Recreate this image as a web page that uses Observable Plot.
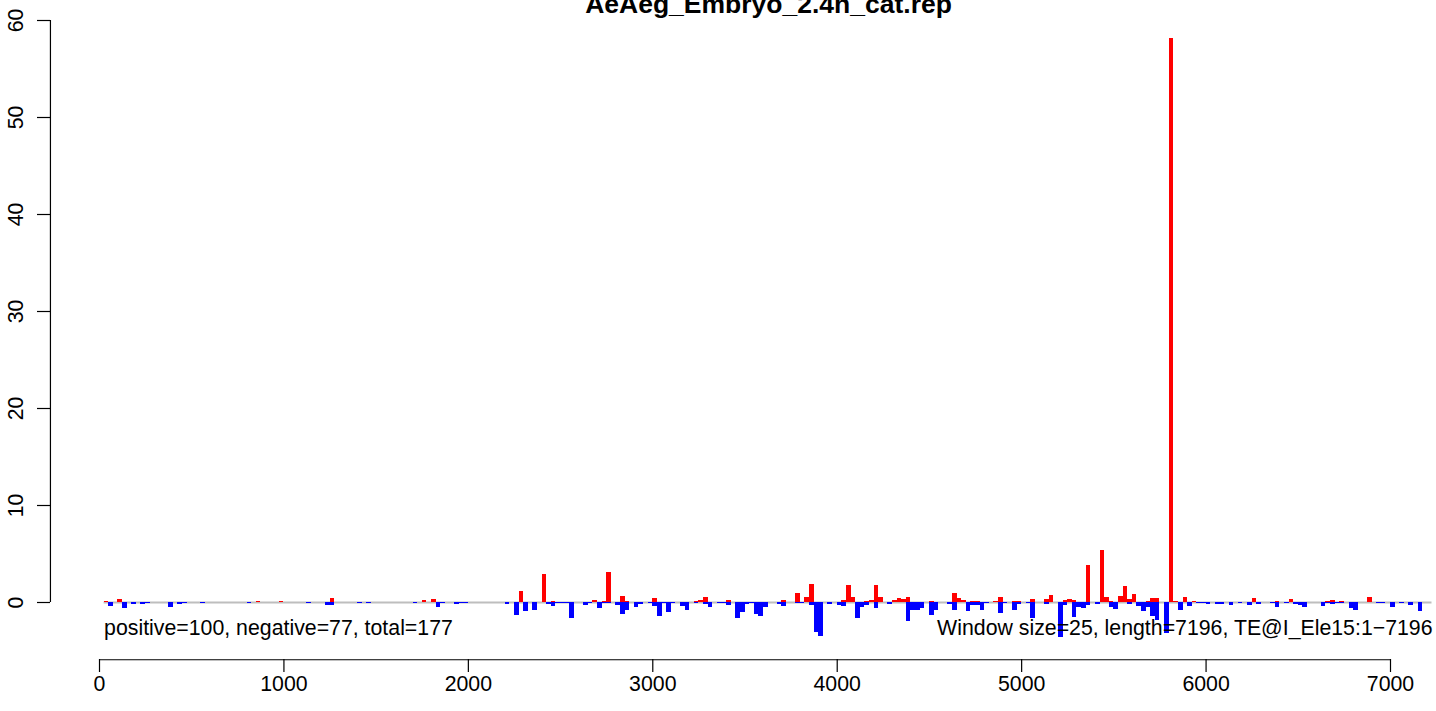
<!DOCTYPE html>
<html><head><meta charset="utf-8">
<script src="https://cdn.jsdelivr.net/npm/d3@7"></script>
<script src="https://cdn.jsdelivr.net/npm/@observablehq/plot@0.6"></script>
<style>html,body{margin:0;padding:0;background:#fff;overflow:hidden} svg{display:block}</style>
</head><body><div id="chart"></div>
<script>
const title = "AeAeg_Embryo_2.4h_cat.rep";
const leftNote = "positive=100, negative=77, total=177";
const rightNote = "Window size=25, length=7196, TE@I_Ele15:1\u22127196";
const windowSize = 25;

// positive strand (red, up): window start and height
const posStart = [25,100,700,850,975,1250,1425,1750,1800,2275,
  2400,2450,2675,2725,2750,2825,2850,3000,3225,3250,3275,3325,3400,
  3700,3775,3825,3850,4025,4050,4075,4150,4175,4200,4225,4250,4300,4325,4350,4375,4500,4625,4650,4675,4725,4750,
  4850,4875,4950,4975,5050,5125,5150,5225,5250,5275,5350,5425,5450,5475,5525,5550,5575,5600,5675,5700,5725,5800,5825,5875,5925,
  6250,6300,6375,6450,6600,6650,6675,6725,6875];
const posValue = [0.1,0.3,0.05,0.1,0.1,0.4,0.05,0.2,0.3,1.15,
  2.9,0.1,0.2,0.1,3.1,0.62,0.1,0.41,0.1,0.2,0.52,0.05,0.2,
  0.2,0.93,0.52,1.86,0.2,1.75,0.52,0.1,0.2,1.75,0.52,0.05,0.2,0.41,0.3,0.52,0.1,0.93,0.41,0.2,0.1,0.1,
  0.14,0.48,0.1,0.1,0.35,0.3,0.76,0.25,0.35,0.2,3.8,5.4,0.48,0.15,0.62,1.65,0.35,0.82,0.1,0.4,0.4,58.1,0.14,0.52,0.1,
  0.38,0.05,0.1,0.31,0.05,0.1,0.2,0.1,0.48];

// negative strand (blue, down): window start and depth
const negStart = [50,125,175,225,250,375,425,450,550,800,1125,
  1225,1250,1400,1450,1700,1825,1850,1925,1950,1975,2200,2250,2300,2350,
  2425,2450,2475,2500,2525,2550,2625,2650,2700,2725,2750,2800,2825,2850,2900,2925,2975,3000,3025,3050,3075,3100,3150,3175,3225,3275,3300,3350,3375,3400,3450,3475,3500,3525,3550,3575,
  3600,3675,3700,3775,3800,3850,3875,3900,3950,4000,4025,4100,4125,4150,4200,4275,4375,4400,4425,4450,4500,4525,4600,4625,4700,4725,
  4750,4775,4800,4875,4900,4950,4975,5025,5050,5125,5200,5225,5275,5300,5325,5350,5400,5475,5500,5575,5625,5650,5675,5700,5725,5775,5850,5900,
  5950,5975,6000,6050,6075,6125,6175,6225,6275,6350,6375,6425,6475,6500,6525,6625,6650,6675,6700,6725,6775,6800,6925,6950,7000,7050,7100,7150];
const negValue = [0.4,0.65,0.2,0.2,0.1,0.55,0.2,0.1,0.1,0.1,0.1,
  0.3,0.3,0.1,0.1,0.1,0.5,0.15,0.2,0.1,0.1,0.2,1.35,0.95,0.8,
  0.17,0.38,0.15,0.15,0.15,1.6,0.28,0.15,0.58,0.15,0.15,0.28,1.2,0.8,0.48,0.2,0.15,0.38,1.4,0.1,1.0,0.15,0.38,0.8,0.1,0.17,0.48,0.1,0.15,0.28,1.6,1.0,0.17,0.15,1.2,1.4,
  0.48,0.17,0.38,0.15,0.15,0.28,3.1,3.5,0.17,0.28,0.38,1.6,0.48,0.28,0.58,0.17,2.0,0.8,0.8,0.58,1.3,0.8,0.17,0.8,0.9,0.28,
  0.3,0.8,0.15,1.1,0.15,0.8,0.2,0.1,1.7,0.17,3.6,0.3,1.5,0.48,0.58,0.3,0.17,0.48,0.7,0.17,0.38,0.9,0.48,1.4,1.9,3.2,0.8,0.38,
  0.1,0.1,0.2,0.2,0.2,0.3,0.1,0.3,0.2,0.1,0.52,0.1,0.2,0.3,0.52,0.41,0.15,0.2,0.1,0.1,0.6,0.8,0.1,0.1,0.52,0.15,0.3,0.93];

const xTicks = [0,1000,2000,3000,4000,5000,6000,7000];
const yTicks = [0,10,20,30,40,50,60];
const baselineExtent = [25, 7225];

// layout (R plot-region edges in data units, note positions)
const yAxisAt = -266;
const xAxisAt = -5.9;
const noteY = -3.4;
const noteLeftX = 25;
const noteRightX = 7228;
const fs = 21.3;

const posBars = posStart.map((s, i) => ({x1: s, x2: s + windowSize, v: posValue[i]}));
const negBars = negStart.map((s, i) => ({x1: s, x2: s + windowSize, v: -negValue[i]}));

const chart = Plot.plot({
  width: 1436, height: 711,
  marginTop: 0, marginRight: 0, marginBottom: 52, marginLeft: 50,
  style: {fontFamily: "'Liberation Sans', Arial, Helvetica, sans-serif", background: "white", color: "black"},
  x: {domain: [0, 7000], range: [99, 1390]},
  y: {domain: [0, 60], range: [602, 20]},
  marks: [
    Plot.ruleY([0], {x1: baselineExtent[0], x2: baselineExtent[1], stroke: "#bebebe", strokeWidth: 2}),
    Plot.rect(posBars, {x1: "x1", x2: "x2", y1: 0, y2: "v", fill: "#ff0000", shapeRendering: "crispEdges"}),
    Plot.rect(negBars, {x1: "x1", x2: "x2", y1: 0, y2: "v", fill: "#0000ff", shapeRendering: "crispEdges"}),
    // x axis
    Plot.ruleY([xAxisAt], {x1: xTicks[0], x2: xTicks[xTicks.length - 1], stroke: "black", strokeWidth: 1.2}),
    Plot.axisX({anchor: "bottom", ticks: xTicks, tickSize: 13, tickPadding: 3, fontSize: fs, label: null,
      tickFormat: d => String(d), strokeWidth: 1.2}),
    // y axis
    Plot.ruleX([yAxisAt], {y1: yTicks[0], y2: yTicks[yTicks.length - 1], stroke: "black", strokeWidth: 1.2}),
    Plot.axisY({anchor: "left", ticks: yTicks, tickSize: 13, tickFormat: () => "", label: null, strokeWidth: 1.2}),
    Plot.text(yTicks, {y: d => d, text: d => String(d), frameAnchor: "left", dx: -28, rotate: -90,
      textAnchor: "middle", lineAnchor: "bottom", fontSize: fs}),
    // notes
    Plot.text([leftNote], {x: noteLeftX, y: noteY, text: d => d, textAnchor: "start", lineAnchor: "bottom", fontSize: fs}),
    Plot.text([rightNote], {x: noteRightX, y: noteY, text: d => d, textAnchor: "end", lineAnchor: "bottom", fontSize: fs}),
    // title (clipped at the top edge, as in the reference)
    Plot.text([title], {frameAnchor: "top", text: d => d, dx: 25, dy: 12, lineAnchor: "bottom",
      fontSize: 26.5, fontWeight: "bold"})
  ]
});
document.getElementById("chart").appendChild(chart);
</script>
</body></html>
